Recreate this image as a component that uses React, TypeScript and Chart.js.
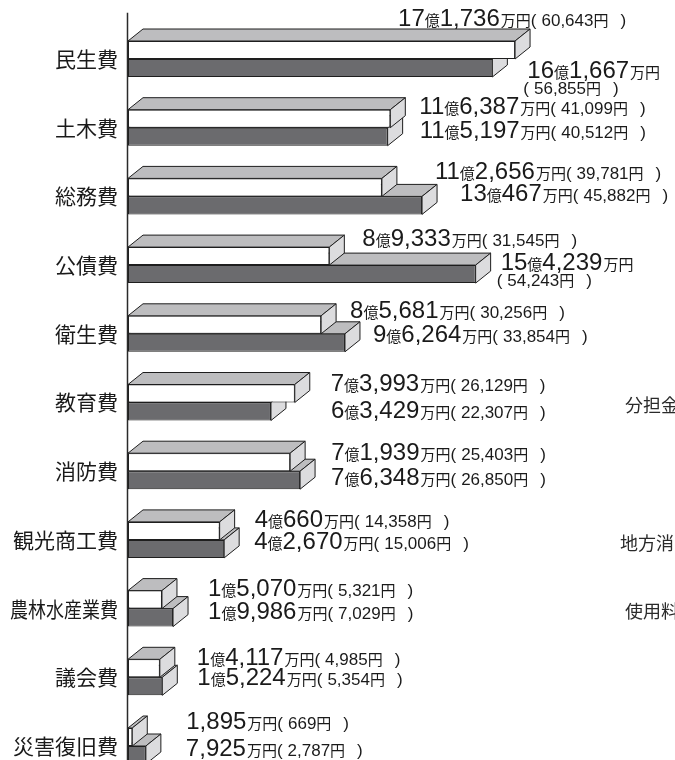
import React, { useEffect, useRef } from 'react';
import { Chart, registerables } from 'chart.js';

Chart.register(...registerables);

// ---- data (万円 / 円) ----
const categories = ['民生費', '土木費', '総務費', '公債費', '衛生費', '教育費', '消防費', '観光商工費', '農林水産業費', '議会費', '災害復旧費'];
const amountsA = [171736, 116387, 112656, 89333, 85681, 73993, 71939, 40660, 15070, 14117, 1895];
const perCapitaA = [60643, 41099, 39781, 31545, 30256, 26129, 25403, 14358, 5321, 4985, 669];
const amountsB = [161667, 115197, 130467, 154239, 96264, 63429, 76348, 42670, 19986, 15224, 7925];
const perCapitaB = [56855, 40512, 45882, 54243, 33854, 22307, 26850, 15006, 7029, 5354, 2787];
const sideTexts = ['分担金・負担金', '地方消費税交付金', '使用料・手数料'];
const sideRows = [5, 7, 8];

// ---- layout (label placement relative to bar ends / row centre) ----
const labelDxA = [-117, 29, 53, 33, 29, 36, 41, 35, 46, 37, 54];
const labelDyA = [-41, -22, -25, -27, -24, -20, -19, -21, -21, -20, -25];
const labelDxB = [35, 32, 38, 25, 28, 60, 31, 30, 35, 35, 40];
const labelDyB = [11, 2, -3, -3, 0, 7, 6, 1, 2, 0, 2];
const twoLineB = [true, false, false, true, false, false, false, false, false, false, false];

const DX = 15;
const DY = 12;
const EDGE = '#1e1e1e';
const TOP_FACE = '#bdbdbf';
const SIDE_FACE = '#dcdcde';
const TEXT = '#1a1a1a';
const BIG_FONT = '24px "Liberation Sans", Arial, sans-serif';
const KANJI_FONT = '15px "Noto Sans CJK JP", sans-serif';
const SMALL_FONT = '17px "Liberation Sans", "Noto Sans CJK JP", sans-serif';

function poly(ctx: CanvasRenderingContext2D, pts: number[][], fill: string) {
  ctx.beginPath();
  ctx.moveTo(pts[0][0], pts[0][1]);
  for (let i = 1; i < pts.length; i++) ctx.lineTo(pts[i][0], pts[i][1]);
  ctx.closePath();
  ctx.fillStyle = fill;
  ctx.fill();
  ctx.strokeStyle = EDGE;
  ctx.lineWidth = 1;
  ctx.stroke();
}

function draw3d(ctx: CanvasRenderingContext2D, el: any) {
  const p = el.getProps(['x', 'y', 'base', 'height'], true);
  const top = p.y - p.height / 2;
  const bot = p.y + p.height / 2;
  const x0 = p.base;
  const x1 = p.x;
  poly(ctx, [[x0, top], [x1, top], [x1 + DX, top - DY], [x0 + DX, top - DY]], TOP_FACE);
  poly(ctx, [[x1, top], [x1 + DX, top - DY], [x1 + DX, bot - DY], [x1, bot]], SIDE_FACE);
}

type Seg = [string, string, number];

function drawSegs(ctx: CanvasRenderingContext2D, x: number, y: number, segs: Seg[]) {
  let cx = x;
  for (const [t, f, gap] of segs) {
    ctx.font = f;
    ctx.fillText(t, cx, y);
    cx += ctx.measureText(t).width + gap;
  }
}

function amountSegs(v: number): Seg[] {
  const oku = Math.floor(v / 10000);
  const man = v % 10000;
  const segs: Seg[] = [];
  if (oku > 0) {
    segs.push([String(oku), BIG_FONT, 0]);
    segs.push(['億', KANJI_FONT, 0]);
  }
  segs.push([man.toLocaleString('en-US'), BIG_FONT, 1]);
  segs.push(['万円', KANJI_FONT, 0]);
  return segs;
}

function perSegs(v: number): Seg[] {
  return [
    ['(', SMALL_FONT, 5],
    [v.toLocaleString('en-US'), SMALL_FONT, 0],
    ['円', KANJI_FONT, 12],
    [')', SMALL_FONT, 0],
  ];
}

const plugin3d = {
  id: 'bars3d',
  beforeDatasetsDraw(chart: any) {
    const ctx = chart.ctx as CanvasRenderingContext2D;
    const mA = chart.getDatasetMeta(0);
    const mB = chart.getDatasetMeta(1);
    ctx.save();
    for (let i = 0; i < categories.length; i++) {
      draw3d(ctx, mB.data[i]);
      draw3d(ctx, mA.data[i]);
    }
    ctx.restore();
  },
  afterDatasetsDraw(chart: any) {
    const ctx = chart.ctx as CanvasRenderingContext2D;
    const area = chart.chartArea;
    const yScale = chart.scales.y;
    const mA = chart.getDatasetMeta(0);
    const mB = chart.getDatasetMeta(1);
    ctx.save();
    // axis line
    ctx.strokeStyle = '#2a2a2a';
    ctx.lineWidth = 1.5;
    ctx.beginPath();
    ctx.moveTo(area.left - 0.5, area.top - 12);
    ctx.lineTo(area.left - 0.5, chart.height);
    ctx.stroke();

    ctx.fillStyle = TEXT;
    // category labels
    ctx.textAlign = 'right';
    ctx.textBaseline = 'middle';
    ctx.font = '21px "Noto Sans CJK JP", sans-serif';
    for (let i = 0; i < categories.length; i++) {
      const c = yScale.getPixelForValue(i);
      ctx.fillText(categories[i], area.left - 10, c, 108);
    }

    // value labels
    ctx.textAlign = 'left';
    ctx.textBaseline = 'alphabetic';
    for (let i = 0; i < categories.length; i++) {
      const c = yScale.getPixelForValue(i);
      const ea = mA.data[i].getProps(['x'], true).x;
      const eb = mB.data[i].getProps(['x'], true).x;
      drawSegs(ctx, ea + labelDxA[i], c + labelDyA[i] + 8, [...amountSegs(amountsA[i]), ...perSegs(perCapitaA[i])]);
      if (twoLineB[i]) {
        drawSegs(ctx, eb + labelDxB[i], c + labelDyB[i] + 8, amountSegs(amountsB[i]));
        drawSegs(ctx, eb + labelDxB[i] - 4, c + labelDyB[i] + 24, perSegs(perCapitaB[i]));
      } else {
        drawSegs(ctx, eb + labelDxB[i], c + labelDyB[i] + 8, [...amountSegs(amountsB[i]), ...perSegs(perCapitaB[i])]);
      }
    }

    // partially visible texts of the neighbouring chart
    ctx.font = '18px "Noto Sans CJK JP", sans-serif';
    ctx.fillStyle = '#2a2a2a';
    ctx.textBaseline = 'middle';
    for (let k = 0; k < sideTexts.length; k++) {
      const c = yScale.getPixelForValue(sideRows[k]);
      ctx.fillText(sideTexts[k], k === 1 ? 620 : 625, c + 3);
    }
    ctx.restore();
  },
};

export default function App() {
  const ref = useRef<HTMLCanvasElement | null>(null);
  useEffect(() => {
    if (!ref.current) return;
    const chart = new Chart(ref.current, {
      type: 'bar',
      data: {
        labels: categories,
        datasets: [
          {
            data: amountsA,
            backgroundColor: '#ffffff',
            borderColor: EDGE,
            borderWidth: 1,
            borderSkipped: false,
            inflateAmount: 0,
            categoryPercentage: 0.524,
            barPercentage: 1,
          } as any,
          {
            data: amountsB,
            backgroundColor: '#6b6b6e',
            borderColor: EDGE,
            borderWidth: 1,
            borderSkipped: false,
            inflateAmount: 0,
            categoryPercentage: 0.524,
            barPercentage: 1,
          } as any,
        ],
      },
      options: {
        indexAxis: 'y',
        responsive: false,
        animation: false,
        layout: { padding: { left: 128, top: 24.65, right: 0, bottom: 9.65 } },
        scales: {
          x: { display: false, min: 0, max: 242700 },
          y: { display: false },
        },
        plugins: { legend: { display: false }, tooltip: { enabled: false } },
      },
      plugins: [plugin3d],
    });
    return () => chart.destroy();
  }, []);
  return (
    <div style={{ position: 'fixed', left: 0, top: 0, width: 675, height: 760, overflow: 'hidden', background: '#fff' }}>
      <canvas ref={ref} width={675} height={790} style={{ display: 'block' }} />
    </div>
  );
}
